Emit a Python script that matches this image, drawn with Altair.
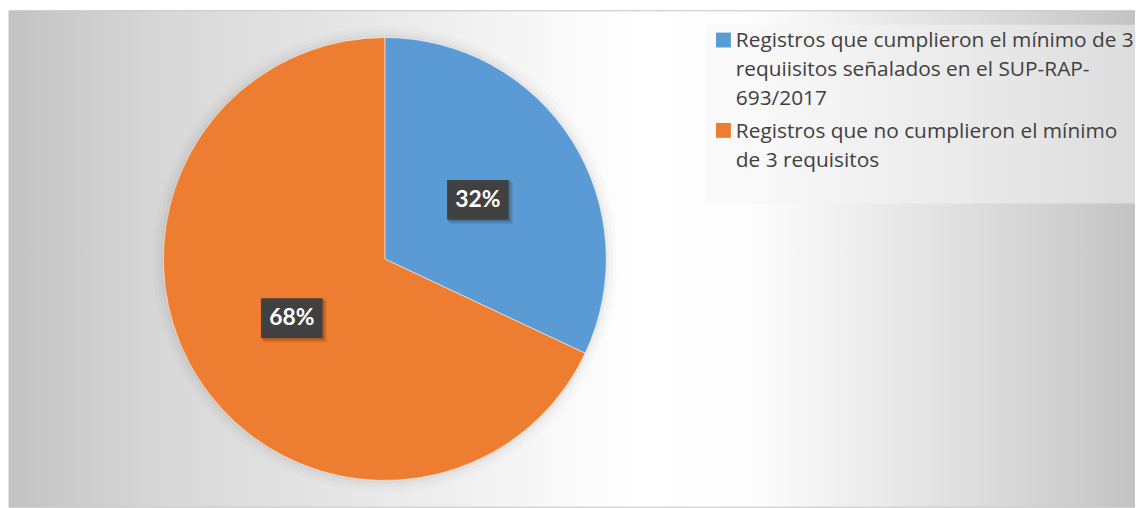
import altair as alt
import pandas as pd

# ---- data ----
categories = [
    "Registros que cumplieron el mínimo de 3 requiisitos señalados en el SUP-RAP-693/2017",
    "Registros que no cumplieron el mínimo de 3 requisitos",
]
legend_lines = [
    ["Registros que cumplieron el mínimo de 3", "requiisitos señalados en el SUP-RAP-", "693/2017"],
    ["Registros que no cumplieron el mínimo", "de 3 requisitos"],
]
values = [32, 68]
labels = ["32%", "68%"]
colors = ["#5B9BD5", "#ED7D31"]

# ---- layout ----
W, H = 1135, 500
OX, OY = 3, -2
CX, CY, R = 375.5 + OX, 252 + OY, 223
LR = 111
FONT = "Lato"
LFONT = "Open Sans"

pie_df = pd.DataFrame({"cat": categories, "value": values, "label": labels, "idx": [0, 1]})
leg_df = pd.DataFrame({
    "cat": categories,
    "text": ["\n".join(l) for l in legend_lines],
    "n": [len(l) for l in legend_lines],
    "idx": [0, 1],
})
one = pd.DataFrame({"k": [0]})

color_scale = alt.Scale(domain=categories, range=colors)

# background with gradient
bg = alt.Chart(one).mark_rect(
    color=alt.Gradient(
        gradient="linear", x1=0, y1=0, x2=1, y2=0,
        stops=[
            alt.GradientStop(color="#c3c3c3", offset=0.0),
            alt.GradientStop(color="#d8d8d8", offset=0.14),
            alt.GradientStop(color="#e6e6e6", offset=0.3),
            alt.GradientStop(color="#f8f8f8", offset=0.48),
            alt.GradientStop(color="#ffffff", offset=0.56),
            alt.GradientStop(color="#fdfdfd", offset=0.66),
            alt.GradientStop(color="#ebebeb", offset=0.77),
            alt.GradientStop(color="#d6d6d6", offset=0.9),
            alt.GradientStop(color="#c3c3c3", offset=1.0),
        ],
    ),
    stroke="#c4c4c4", strokeWidth=1,
).encode(x=alt.value(0), x2=alt.value(W), y=alt.value(0), y2=alt.value(H))

# soft glow behind the pie
glows = []
for rr, op in [(234, 0.015), (230, 0.02), (226, 0.03)]:
    glows.append(
        alt.Chart(pie_df).mark_arc(radius=rr, color="#000000", opacity=op).encode(
            theta=alt.Theta("value:Q", stack=True),
            order=alt.Order("idx:Q"),
            x=alt.value(CX), y=alt.value(CY),
        )
    )

pie = alt.Chart(pie_df).mark_arc(radius=R, stroke="#ffffff", strokeWidth=0.5).encode(
    theta=alt.Theta("value:Q", stack=True),
    color=alt.Color("cat:N", scale=color_scale, legend=None),
    order=alt.Order("idx:Q"),
    x=alt.value(CX), y=alt.value(CY),
)

lab = alt.Chart(pie_df).transform_joinaggregate(
    total="sum(value)"
).transform_window(
    cum="sum(value)", sort=[alt.SortField("idx")]
).transform_calculate(
    mid="(datum.cum - datum.value/2) / datum.total * 2 * PI",
).transform_calculate(
    lx=f"{CX} + {LR} * sin(datum.mid)",
    ly=f"{CY} - {LR} * cos(datum.mid)",
).transform_calculate(
    bx1="datum.lx - 31", bx2="datum.lx + 31",
    by1="datum.ly - 20", by2="datum.ly + 20",
    s1x1="datum.lx - 29", s1x2="datum.lx + 35",
    s1y1="datum.ly - 18", s1y2="datum.ly + 24",
    s2x1="datum.lx - 30", s2x2="datum.lx + 33",
    s2y1="datum.ly - 19", s2y2="datum.ly + 22",
)

def box(prefix, col, op):
    return lab.mark_rect(color=col, opacity=op).encode(
        x=alt.X(f"{prefix}x1:Q", scale=None, axis=None), x2=f"{prefix}x2:Q",
        y=alt.Y(f"{prefix}y1:Q", scale=None, axis=None), y2=f"{prefix}y2:Q",
    )

shadow1 = box("s1", "#000000", 0.12)
shadow2 = box("s2", "#000000", 0.15)
boxes = lab.mark_rect(color="#414141").encode(
    x=alt.X("bx1:Q", scale=None, axis=None), x2="bx2:Q",
    y=alt.Y("by1:Q", scale=None, axis=None), y2="by2:Q",
)
texts = lab.mark_text(
    font=FONT, fontSize=23, fontWeight="bold", color="#ffffff",
    align="center", baseline="middle",
).encode(
    x=alt.X("lx:Q", scale=None, axis=None),
    y=alt.Y("ly:Q", scale=None, axis=None),
    text="label:N",
)

# legend
leg_box = alt.Chart(one).mark_rect(color="#f6f6f6", opacity=0.5).encode(
    x=alt.value(699 + OX), x2=alt.value(W), y=alt.value(16 + OY), y2=alt.value(196 + OY)
)
leg = alt.Chart(leg_df).transform_window(
    cumn="sum(n)", sort=[alt.SortField("idx")]
).transform_calculate(
    top=f"{24 + OY} + (datum.cumn - datum.n) * 29 + datum.idx * 4",
).transform_calculate(
    bot="datum.top + 15", base="datum.top + 15",
)
leg_sym = leg.mark_rect().encode(
    x=alt.value(709 + OX), x2=alt.value(724 + OX),
    y=alt.Y("top:Q", scale=None, axis=None), y2="bot:Q",
    color=alt.Color("cat:N", scale=color_scale, legend=None),
)
leg_txt = leg.mark_text(
    font=LFONT, fontSize=21, color="#404040", align="left",
    baseline="alphabetic", lineBreak="\n", lineHeight=29,
).encode(
    x=alt.value(729 + OX),
    y=alt.Y("base:Q", scale=None, axis=None),
    text="text:N",
)

chart = alt.layer(
    bg, *glows, pie, shadow1, shadow2, boxes, texts, leg_box, leg_sym, leg_txt
).properties(
    width=W, height=H, padding=0,
    autosize=alt.AutoSizeParams(type="fit", contains="padding"),
    background="#ffffff",
).configure_view(stroke=None)

chart.save("out.html", embed_options={"renderer": "svg", "actions": False})
